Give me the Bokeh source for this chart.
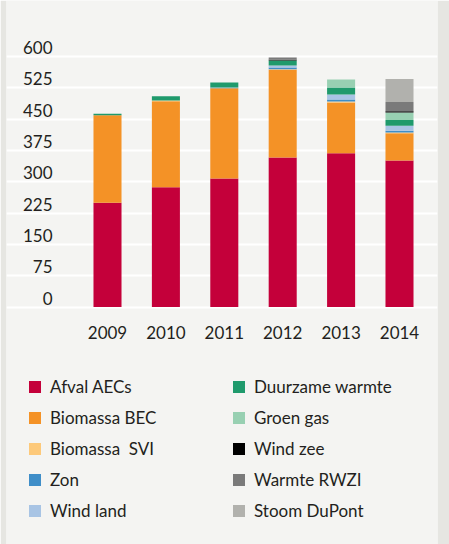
from bokeh.plotting import figure
from bokeh.models import FixedTicker, Legend, LegendItem, ColumnDataSource, Range1d
from bokeh.core.properties import value
from bokeh.embed import file_html
from bokeh.resources import INLINE

years = ["2009", "2010", "2011", "2012", "2013", "2014"]
series_names = ["Afval AECs", "Biomassa BEC", "Biomassa  SVI", "Zon", "Wind land",
                "Duurzame warmte", "Groen gas", "Wind zee", "Warmte RWZI", "Stoom DuPont"]
afval = [250, 287, 308, 358, 368, 351]
biomassa_bec = [209, 206, 216, 210, 122, 65]
biomassa_svi = [0, 1.5, 0, 1.5, 2, 2]
zon = [0, 0, 1, 4, 5, 4]
wind_land = [0, 0, 1, 5, 12, 12]
duurzame_warmte = [4, 10, 12, 12, 17, 14]
groen_gas = [0, 0, 0, 0, 19, 18]
wind_zee = [0, 0, 0, 2, 0, 3]
warmte_rwzi = [0, 0, 0, 5, 0, 22]
stoom_dupont = [0, 0, 0, 0, 0, 55]
y_ticks = [0, 75, 150, 225, 300, 375, 450, 525, 600]
y_tick_labels = [str(t) for t in y_ticks]

colors = ["#c4003a", "#f49226", "#fdc97a", "#3f8ec8", "#a8c4e4",
          "#1f9a6c", "#98d0b2", "#000000", "#7a7a7a", "#b1b1ad"]

keys = ["s%d" % i for i in range(len(series_names))]
data = dict(x=list(range(len(years))))
for k, vals in zip(keys, [afval, biomassa_bec, biomassa_svi, zon, wind_land,
                          duurzame_warmte, groen_gas, wind_zee, warmte_rwzi, stoom_dupont]):
    data[k] = vals
source = ColumnDataSource(data)

FONT = value("Lato")
TXT = "#231f20"

W, H = 449, 544
left_b, right_b = 6, 12
frame_w = W - left_b - right_b
cat_px = 58.4
first_px = 101.0
unit_px = 0.4175
zero_px = 306.5

p = figure(width=W, height=H, output_backend="svg", toolbar_location=None,
           x_axis_location=None, y_axis_location=None,
           min_border_left=left_b, min_border_right=right_b,
           min_border_top=0, min_border_bottom=0,
           outline_line_color=None, background_fill_color="#f4f4f2",
           border_fill_color="#e6e6e2")
p.x_range = Range1d(-first_px / cat_px, (frame_w - first_px) / cat_px)
p.y_range = Range1d((zero_px - H) / unit_px, zero_px / unit_px)

p.xgrid.visible = False
p.ygrid.ticker = FixedTicker(ticks=y_ticks)
p.ygrid.grid_line_color = "white"
p.ygrid.grid_line_width = 2

renderers = p.vbar_stack(keys, x="x", width=0.48, color=colors, line_color=None,
                         source=source)

# y tick labels (sit just above their gridlines)
p.text(x=[0] * len(y_ticks), y=y_ticks, text=y_tick_labels, x_offset=-55, y_offset=-9,
       text_align="right", text_baseline="middle", text_font=FONT,
       text_font_size="17px", text_color=TXT)
# year labels
p.text(x=list(range(len(years))), y=[0] * len(years), text=years, y_offset=25,
       text_align="center", text_baseline="middle", text_font=FONT,
       text_font_size="17px", text_color=TXT)

items = [LegendItem(label=n, renderers=[r]) for n, r in zip(series_names, renderers)]

def make_legend(its, loc):
    lg = Legend(items=its, location=loc, orientation="vertical",
                border_line_color=None, background_fill_alpha=0,
                padding=0, margin=0, glyph_width=15, glyph_height=15,
                label_standoff=8, label_height=15, spacing=10,
                label_text_font="Lato", label_text_font_size="17px",
                label_text_color=TXT)
    return lg

p.add_layout(make_legend(items[:5], (21, 23)), "center")
p.add_layout(make_legend(items[5:], (225, 23)), "center")

open("out.html", "w").write(file_html(p, INLINE))
